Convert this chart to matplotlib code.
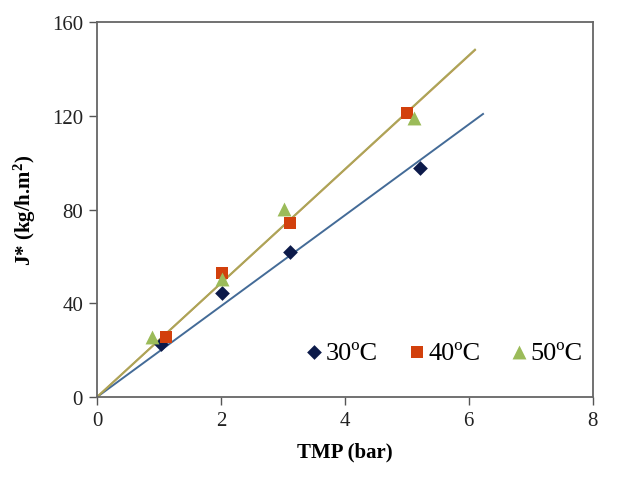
import numpy as np
import matplotlib
matplotlib.use("Agg")
import matplotlib.pyplot as plt

# data
tmp_30 = [1.04, 2.01, 3.11, 5.22]
flux_30 = [22.6, 44.4, 61.8, 97.7]
tmp_40 = [1.11, 2.01, 3.12, 5.01]
flux_40 = [25.5, 53.0, 74.4, 121.0]
tmp_50 = [0.88, 2.01, 3.02, 5.12]
flux_50 = [25.5, 50.4, 80.3, 119.0]
labels = ["30ºC", "40ºC", "50ºC"]
fit_xmax = [6.23, 6.1, 6.1]

x_ticks = [0, 2, 4, 6, 8]
y_ticks = [0, 40, 80, 120, 160]

plt.rcParams["font.family"] = ["Liberation Serif", "DejaVu Serif"]
plt.rcParams["mathtext.fontset"] = "custom"
plt.rcParams["mathtext.rm"] = "Liberation Serif"
plt.rcParams["mathtext.bf"] = "Liberation Serif:bold"

fig = plt.figure(figsize=(6.38, 4.89), dpi=100)
ax = fig.add_axes([0.152, 0.186, 0.777, 0.767])

series = [
    (tmp_30, flux_30, "D", "#0c1a4a", "#2f5b8c", 7.5),
    (tmp_40, flux_40, "s", "#d2400c", "#c8843a", 8.5),
    (tmp_50, flux_50, "^", "#9bbb59", "#a8a85a", 10),
]

# trendlines through the origin
for (x, y, m, c, lc, ms), xm in zip(series, fit_xmax):
    x = np.array(x)
    y = np.array(y)
    k = np.sum(x * y) / np.sum(x * x)
    ax.plot([0, xm], [0, k * xm], color=lc, lw=1.4, zorder=2, alpha=0.9)

handles = []
for (x, y, m, c, lc, ms), lab in zip(series, labels):
    h = ax.scatter(x, y, marker=m, s=ms ** 2, color=c, zorder=3, label=lab,
                   linewidths=0)
    handles.append(h)

ax.set_xlim(0, 8)
ax.set_ylim(0, 160)
ax.set_xticks(x_ticks)
ax.set_yticks(y_ticks)
ax.tick_params(direction="out", length=6, width=1, colors="#555555",
               labelsize=15, labelcolor="#222222", pad=4)
for s in ax.spines.values():
    s.set_color("#666666")
    s.set_linewidth(1.3)

ax.set_xlabel("TMP (bar)", fontsize=15, fontweight="bold", labelpad=8)
ax.set_ylabel("J* (kg/h.m$\\mathbf{^2}$)", fontsize=15, fontweight="bold",
              labelpad=10)

ax.legend(handles=handles, loc="lower right", ncol=3, frameon=False,
          fontsize=19, handlelength=0.5, handletextpad=0.2,
          columnspacing=1.2, bbox_to_anchor=(1.028, 0.025), markerscale=1.0)

fig.savefig("out.png", dpi=100)
